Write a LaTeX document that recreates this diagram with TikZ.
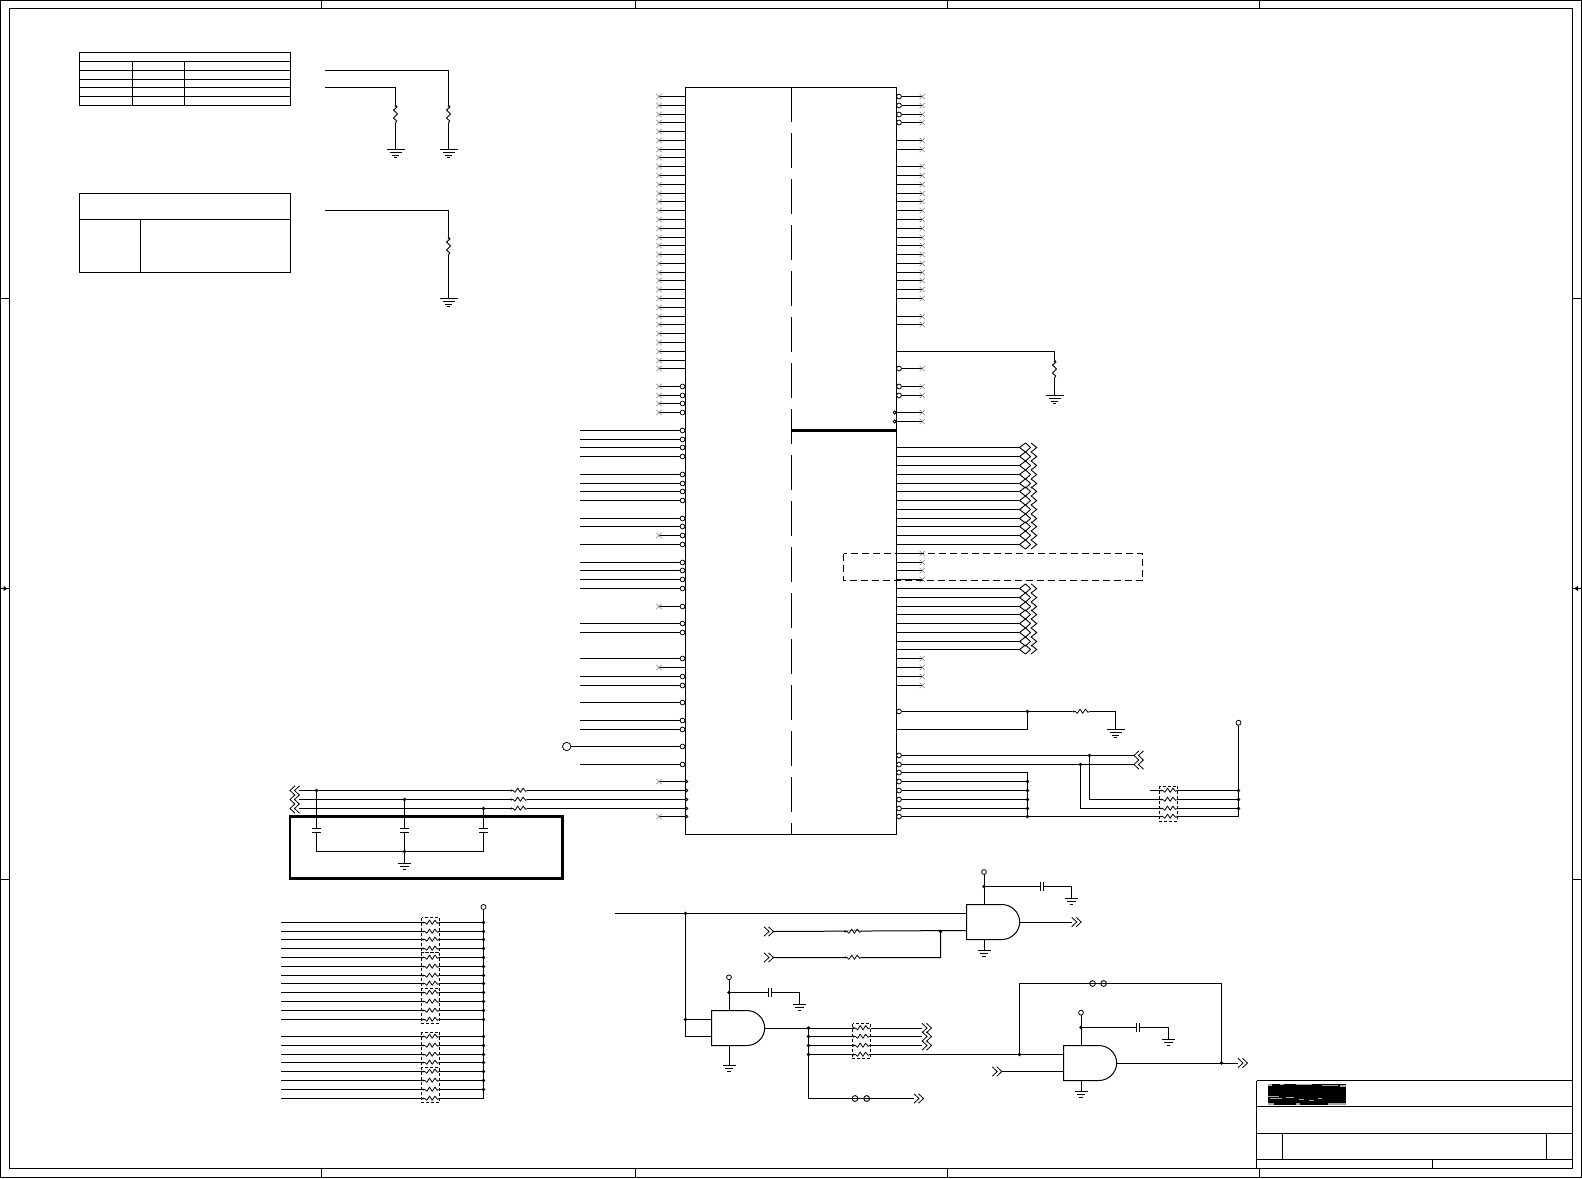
\documentclass[tikz,border=0pt]{standalone}
\begin{document}
\begin{tikzpicture}[x=1pt,y=-1pt,line cap=butt,line join=miter]
\tikzset{
 wire/.style={line width=1pt,black},
 thick wire/.style={line width=2.6pt,black},
 cross/.style={line width=0.5pt,black!50},
 chip box/.style={draw,line width=1pt,rectangle,inner sep=0pt,outer sep=0pt},
 bubble/.style={draw=black,line width=0.8pt,fill=white},
 pack box/.style={draw=black,line width=0.8pt,dash pattern=on 3pt off 2pt,fill=white},
}
\newcommand{\Xm}[2]{\draw[cross] ({#1-2.7},{#2-2.7}) -- ({#1+2.7},{#2+2.7}) ({#1-2.7},{#2+2.7}) -- ({#1+2.7},{#2-2.7});}
\newcommand{\Bub}[3]{\draw[bubble] (#1,{#2}) circle[radius=#3];}
\newcommand{\Jdot}[2]{\fill[black] (#1,{#2}) circle[radius=1.8];}
\newcommand{\ChevR}[2]{\draw[line width=0.8pt] (#1,{#2-4.7}) -- ({#1+5},{#2}) -- (#1,{#2+4.7}) ({#1+4.5},{#2-4.7}) -- ({#1+9.5},{#2}) -- ({#1+4.5},{#2+4.7});}
\newcommand{\ChevL}[2]{\draw[line width=0.8pt] ({#1+5},{#2-4.7}) -- (#1,{#2}) -- ({#1+5},{#2+4.7}) ({#1+9.5},{#2-4.7}) -- ({#1+4.5},{#2}) -- ({#1+9.5},{#2+4.7});}
\newcommand{\ChevB}[1]{\draw[line width=0.9pt] (1025.5,{#1-4.6}) -- (1019.6,{#1}) -- (1025.5,{#1+4.6}) (1025.5,{#1-4.6}) -- (1030.5,{#1}) -- (1025.5,{#1+4.6}) (1031,{#1-4.6}) -- (1036.7,{#1}) -- (1031,{#1+4.6});}
\newcommand{\ZigH}[2]{\draw[white,line width=2pt] (#1,{#2}) -- ({#1+17.4},{#2});
 \draw[line width=0.8pt,line join=round] (#1,{#2}) -- ({#1+3},{#2}) -- ({#1+5},{#2+1.8}) -- ({#1+7.7},{#2-2.4}) -- ({#1+10.4},{#2+1.8}) -- ({#1+13.1},{#2-2.4}) -- ({#1+15.6},{#2+0.8}) -- ({#1+17.4},{#2});
 \fill ({#1+1.3},{#2}) circle[radius=1.1];}
\newcommand{\ZigV}[2]{\draw[white,line width=2pt] (#1,{#2}) -- (#1,{#2+18});
 \draw[line width=0.9pt,line join=round] (#1,{#2}) -- ({#1+1.6},{#2+2}) -- ({#1-2},{#2+5}) -- ({#1+2},{#2+9}) -- ({#1-2},{#2+13}) -- ({#1+1.2},{#2+16}) -- (#1,{#2+18});
 \fill ({#1},{#2+1.5}) circle[radius=0.9];}
\newcommand{\GndL}[2]{\draw[line width=0.9pt] ({#1-9},{#2}) -- ({#1+9},{#2}) ({#1-6},{#2+3}) -- ({#1+6},{#2+3}) ({#1-3.5},{#2+5.5}) -- ({#1+3.5},{#2+5.5}) ({#1-1.2},{#2+8}) -- ({#1+1.2},{#2+8});}
\newcommand{\GndS}[2]{\draw[line width=0.9pt] ({#1-6.5},{#2}) -- ({#1+6.5},{#2}) ({#1-4.3},{#2+3}) -- ({#1+4.3},{#2+3}) ({#1-1.8},{#2+6}) -- ({#1+1.8},{#2+6});}
\newcommand{\CapH}[2]{\fill[white] (#1,{#2-1}) rectangle ({#1+3.4},{#2+1});
 \draw[line width=0.9pt] (#1,{#2-4.5}) -- (#1,{#2+4.5}); \draw[line width=1.5pt] ({#1+3.4},{#2-4.5}) -- ({#1+3.4},{#2+4.5});}
\newcommand{\CapV}[2]{\fill[white] ({#1-1},{#2}) rectangle ({#1+1},{#2+3.4});
 \draw[line width=1.2pt] ({#1-4.2},{#2}) -- ({#1+4.2},{#2}); \draw[line width=0.9pt] ({#1-4.2},{#2+3.4}) -- ({#1+4.2},{#2+3.4});}
\newcommand{\Gate}[3]{% name, left, top
 \draw[line width=1pt,fill=white] (#2,#3) -- ({#2+35.4},#3) .. controls ({#2+45},#3) and ({#2+53.2},{#3+8}) .. ({#2+53.2},{#3+17.5}) .. controls ({#2+53.2},{#3+27}) and ({#2+45},{#3+35}) .. ({#2+35.4},{#3+35}) -- (#2,{#3+35}) -- cycle;
 \coordinate (#1t) at ({#2+17.5},#3); \coordinate (#1b) at ({#2+17.5},{#3+35}); \coordinate (#1o) at ({#2+53.2},{#3+17.5});
 \coordinate (#1i) at (#2,{#3+9}); \coordinate (#1j) at (#2,{#3+26});}
\newcommand{\PackH}[2]{\draw[pack box] (#1,{#2}) rectangle ({#1+18},{#2+35.2});}
\useasboundingbox (0,0) rectangle (1582,1178);
\fill[white] (0,0) rectangle (1582,1178);
% frame
\draw[wire] (0.5,0.5) rectangle (1581.5,1177.5);
\draw[wire] (9.5,8.5) rectangle (1572.5,1168.5);
\foreach \t in {321.5,635.5,947.5,1259.5}{\draw[wire] (\t,0.5) -- (\t,8.5) (\t,1168.5) -- (\t,1177.5);}
\foreach \t in {298.5,879.5}{\draw[wire] (0.5,\t) -- (9.5,\t) (1572.5,\t) -- (1581.5,\t);}
\draw[wire] (0.5,588.5) -- (9.5,588.5) (1572.5,588.5) -- (1581.5,588.5);
\fill (3.5,586) -- (7.5,588.5) -- (3.5,591) -- cycle;
\fill (1578,586) -- (1574,588.5) -- (1578,591) -- cycle;
% tables
\draw[wire] (79.5,52.5) rectangle (290.5,105.5);
\foreach \t in {61.5,70.5,79.5,87.5,96.5}{\draw[wire] (79.5,\t) -- (290.5,\t);}
\draw[wire] (132.5,61.5) -- (132.5,105.5) (184.5,61.5) -- (184.5,105.5);
\draw[wire] (79.5,193.5) rectangle (290.5,272.5);
\draw[wire] (79.5,219.5) -- (290.5,219.5) (140.5,219.5) -- (140.5,272.5);
% straps
\coordinate (sa) at (325,70.5); \coordinate (sb) at (325,87.5); \coordinate (sc) at (325,210.5);
\draw[wire] (sa) -- (448.5,70.5) -- (448.5,149.5);
\draw[wire] (sb) -- (395.5,87.5) -- (395.5,149.5);
\draw[wire] (sc) -- (448.5,210.5) -- (448.5,298.5);
\ZigV{395.5}{105} \ZigV{448.5}{105} \ZigV{448.5}{237}
\GndL{395.5}{149.5} \GndL{448.5}{149.5} \GndL{448.5}{298.5}
% chip
\node[chip box,minimum width=211pt,minimum height=747pt] (chip) at (791,460.9) {};
\draw[line width=1pt,dash pattern=on 35pt off 11pt] (chip.north) -- (chip.south);
\draw[thick wire] (791,430.5) -- (896.5,430.5);
\def\ry{floor(96.5+8.785*\n)+0.5}
% left pins with no-connect marks
\foreach \n in {0,...,31}{\draw[wire] (659,{\ry}) -- (685.5,{\ry}); \Xm{659}{\ry}}
\foreach \n in {33,34,35,36,50,58}{\draw[wire] (659,{\ry}) -- (682,{\ry}); \Xm{659}{\ry} \Bub{682.5}{\ry}{2.4}}
\draw[wire] (659,667.5) -- (685.5,667.5); \Xm{659}{667.5}
% left long pins
\foreach \n in {38,39,40,41,43,44,45,46,48,49,51,53,54,55,56,60,61,64,66,67,69,71,72,76}{\draw[wire] (580,{\ry}) -- (682,{\ry}); \Bub{682.5}{\ry}{2.4}}
\draw[wire] (566.7,746.5) -- (682,746.5); \Bub{682.5}{746.5}{2.4} \Bub{566.7}{746.5}{4.2}
\foreach \n in {78,82}{\draw[wire] (659,{\ry}) -- (686,{\ry}); \Xm{659}{\ry} \Bub{686.5}{\ry}{1.3}}
\draw[wire] (299.3,790.5) -- (686,790.5) (299.3,799.5) -- (686,799.5) (299.3,808.5) -- (686,808.5);
\foreach \t in {790.5,799.5,808.5}{\Bub{686.5}{\t}{1.3} \ChevL{290}{\t} \ZigH{510}{\t}}
% left RC
\draw[thick wire] (290,816.7) rectangle (562.5,878.3);
\coordinate (rcgnd) at (404.5,851.5);
\draw[wire] (316.5,790.5) -- (316.5,851.5) -- (483.5,851.5) -- (483.5,808.5) (404.5,799.5) -- (rcgnd) -- (404.5,863.5);
\CapV{316.5}{828.7} \CapV{404.5}{828.7} \CapV{483.5}{828.7}
\Jdot{316.5}{790.5} \Jdot{404.5}{799.5} \Jdot{483.5}{808.5} \Jdot{404.5}{851.5}
\GndS{404.5}{863.5}
% right pins
\foreach \n in {0,1,2,3,31,33,34}{\draw[wire] (899,{\ry}) -- (922.3,{\ry}); \Xm{922.3}{\ry} \Bub{899}{\ry}{2.4}}
\foreach \n in {5,6,8,9,10,11,12,13,14,15,16,17,18,19,20,21,22,23,25,26,52,53,54,55,64,65,66,67}{\draw[wire] (896.5,{\ry}) -- (922.3,{\ry}); \Xm{922.3}{\ry}}
\foreach \n in {36,37}{\draw[wire] (895,{\ry}) -- (922.3,{\ry}); \Xm{922.3}{\ry} \Bub{894.7}{\ry}{1.5}}
\foreach \n in {40,...,51,56,57,58,59,60,61,62,63}{\draw[wire] (896.5,{\ry}) -- (1020,{\ry}); \ChevB{\ry}}
% right misc
\coordinate (rpu) at (1054.5,351.5);
\draw[wire] (896.5,351.5) -- (rpu) -- (1054.5,395.5);
\ZigV{1054.5}{360} \GndL{1054.5}{395.5}
\draw[wire] (899,711.5) -- (1115.5,711.5) -- (1115.5,729.5) (896.5,729.5) -- (1027.5,729.5) -- (1027.5,711.5);
\Bub{899}{711.5}{2.4} \Jdot{1027.5}{711.5} \ZigH{1072.3}{711.5} \GndL{1115.5}{729.5}
\draw[wire] (899,755.5) -- (1134,755.5) (899,764.5) -- (1134,764.5);
\Bub{899}{755.5}{2.4} \Bub{899}{764.5}{2.4}
\ChevL{1134}{755.5} \ChevL{1134}{764.5}
\draw[wire] (1089.5,755.5) -- (1089.5,799.5) -- (1238.5,799.5) (1080.5,764.5) -- (1080.5,808.5) -- (1238.5,808.5);
\draw[wire] (1150,790.5) -- (1238.5,790.5);
\foreach \n in {77,...,81}{\draw[wire] (899,{\ry}) -- (1027.5,{\ry}); \Bub{899}{\ry}{2.4}}
\draw[wire] (899,816.5) -- (1238.5,816.5) -- (1238.5,722.7);
\draw[wire] (1027.5,773) -- (1027.5,816.5);
\foreach \n in {78,79,80,81,82}{\Jdot{1027.5}{\ry}}
\Bub{899}{816.5}{2.4}
\Jdot{1089.5}{755.5} \Jdot{1080.5}{764.5}
\foreach \t in {790.5,799.5,808.5}{\Jdot{1238.5}{\t}}
\Bub{1238.5}{722.7}{2.5}
\PackH{1159.5}{786}
\foreach \t in {790.5,799.5,808.5,816.5}{\draw[wire] (1159.5,\t) -- (1177.5,\t); \ZigH{1159.8}{\t}}
% dashed region
\draw[line width=1pt,dash pattern=on 7pt off 4pt] (843.5,553.5) rectangle (1142.5,580.5);
% pull-up bank
\def\ky{floor(922.4+8.785*\k)+0.5}
\draw[wire] (483.5,907) -- (483.5,1098.5);
\foreach \k in {0,...,11,13,14,...,20}{\draw[wire] (281,{\ky}) -- (483.5,{\ky});}
\foreach \t in {917.6,952.7,988,1032,1067.2}{\PackH{421.5}{\t}}
\foreach \k in {0,...,11,13,14,...,20}{\draw[wire] (421.5,{\ky}) -- (439.5,{\ky}); \ZigH{421.8}{\ky}}
\foreach \k in {0,...,11,13,14,...,19}{\Jdot{483.5}{\ky}}
\Bub{483.5}{907}{2.5}
% gates
\coordinate (inA) at (615,913.5);
\coordinate (jA) at (685.5,913.5);
\coordinate (jB) at (685.5,1019.5);
\Gate{A}{966.5}{904.5}
\Gate{B}{711.5}{1010.5}
\Gate{C}{1063.5}{1045.5}
% gate A
\draw[wire] (inA) -- (Ai);
\draw[wire] (jA) -- (685.5,1036.5) -- (Bj);
\draw[wire] (jB) -- (Bi);
\Jdot{685.5}{913.5} \Jdot{685.5}{1019.5}
\coordinate (Av) at (984,872); \coordinate (Ad) at (984,886.5); \coordinate (Ag) at (984,950.5);
\draw[wire] (Av) -- (At) (Ad) -- (1071.5,886.5) -- (1071.5,898.5) (Ab) -- (Ag);
\CapH{1040}{886.5} \Bub{984}{872}{2.4} \Jdot{984}{886.5} \GndS{1071.5}{898.5} \GndS{984}{950.5}
\draw[wire] (Ao) -- (1071.7,922); \ChevR{1071.7}{922}
\draw[wire] (773.3,931.5) -- (Aj) (773.3,957.5) -- (940.5,957.5) -- (940.5,931.5);
\ChevR{764}{931.5} \ChevR{764}{957.5} \ZigH{844}{931.5} \ZigH{844}{957.5} \Jdot{940.5}{931.5}
% gate B
\coordinate (Bv) at (729,977.3); \coordinate (Bd) at (729,992.5); \coordinate (Bg) at (729,1065.5);
\draw[wire] (Bv) -- (Bt) (Bd) -- (799.5,992.5) -- (799.5,1004.5) (Bb) -- (Bg);
\CapH{768.3}{992.5} \Bub{729}{977.3}{2.4} \Jdot{729}{992.5} \GndS{799.5}{1004.5} \GndS{729}{1065.5}
\draw[wire] (Bo) -- (922,1028) (808.5,1028) -- (808.5,1098.5) -- (914,1098.5);
\draw[wire] (808.5,1036.5) -- (922,1036.5) (808.5,1045.5) -- (922,1045.5) (808.5,1054.5) -- (Ci);
\foreach \t in {1028,1036.5,1045.5,1054.5}{\Jdot{808.5}{\t}}
\PackH{852.5}{1023.5}
\foreach \t in {1028,1036.5,1045.5,1054.5}{\draw[wire] (852.5,\t) -- (869.7,\t); \ZigH{852.5}{\t}}
\foreach \t in {1028,1036.5,1045.5}{\ChevR{922}{\t}}
\foreach \t in {855,866.7}{\draw[line width=0.9pt] (\t,1098.5) circle[radius=2.9];}
\ChevR{914}{1098.5}
% gate C
\coordinate (Cv) at (1081,1012.7); \coordinate (Cd) at (1081,1027.5); \coordinate (Cg) at (1081,1091.5);
\draw[wire] (Cv) -- (Ct) (Cd) -- (1168.5,1027.5) -- (1168.5,1039.5) (Cb) -- (Cg);
\CapH{1136.2}{1027.5} \Bub{1081}{1012.7}{2.4} \Jdot{1081}{1027.5} \GndS{1168.5}{1039.5} \GndS{1081}{1091.5}
\draw[wire] (1019.5,1054.5) -- (1019.5,983.5) -- (1221.5,983.5) -- (1221.5,1063);
\Jdot{1019.5}{1054.5}
\foreach \t in {1092.5,1103.6}{\draw[line width=0.9pt] (\t,983.5) circle[radius=2.9];}
\draw[wire] (Co) -- (1238,1063); \Jdot{1221.5}{1063} \ChevR{1238}{1063}
\draw[wire] (1002,1071.5) -- (Cj); \ChevR{992.3}{1071.5}
% title block
\draw[wire] (1256.5,1080.5) -- (1572.5,1080.5) (1256.5,1080.5) -- (1256.5,1168.5);
\foreach \t in {1106.5,1133.5,1159.5}{\draw[wire] (1256.5,\t) -- (1572.5,\t);}
\draw[wire] (1282.5,1133.5) -- (1282.5,1159.5) (1546.5,1133.5) -- (1546.5,1159.5) (1432.5,1159.5) -- (1432.5,1168.5);
\fill[black] (1268,1084.3) rectangle (1345.5,1104.7);
\foreach \a/\b/\c/\d in {1268/1084/1272/1086,1280/1084/1284/1085,1296/1084/1312/1085,1322/1085/1338/1086,1340/1085/1345.5/1087,1268/1096/1279/1097,1270/1098/1282/1099,1286/1097/1294/1098,1299/1099/1304/1100,1309/1100/1314/1101,1318/1098/1322/1099,1268/1103/1274/1105,1296/1103/1300/1105,1328/1103/1345.5/1105}{\fill[black!35] (\a,\b) rectangle (\c,\d);}
\end{tikzpicture}
\end{document}
